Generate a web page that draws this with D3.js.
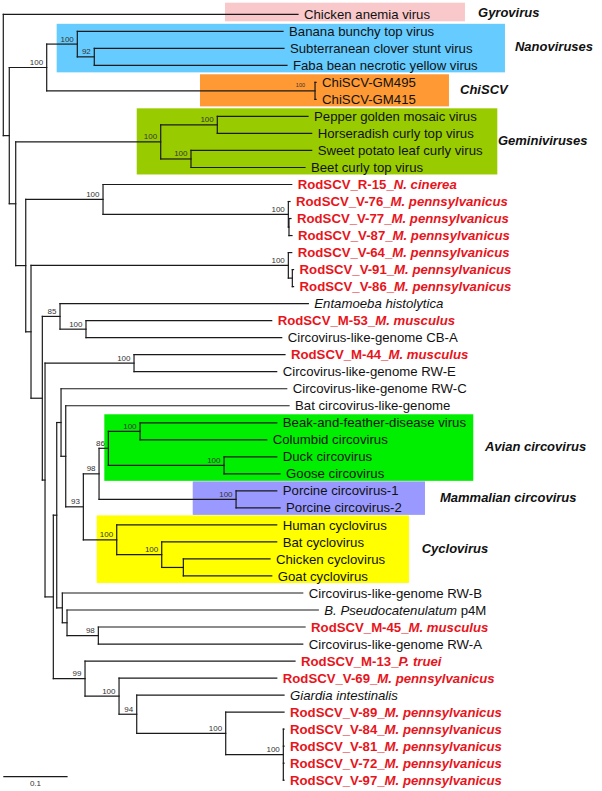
<!DOCTYPE html>
<html>
<head>
<meta charset="utf-8">
<script src="https://cdn.jsdelivr.net/npm/d3@7"></script>
<style>
  html, body { margin: 0; padding: 0; background: #fff; }
  svg { display: block; font-family: "Liberation Sans", Arial, sans-serif; }
</style>
</head>
<body>
<svg id="chart" width="602" height="791"></svg>
<script>
// ---------------- DATA ----------------
// Tree topology with branch lengths (substitutions/site) and bootstrap support as internal labels
const newick =
 "(CAV:0.4583," +
  "(" +
   "((Banana:0.3199,(Subterranean:0.2950,Faba:0.2997)92:0.0264)100:0.0476," +
    "(GM495:0.0016,GM415:0.0016)100:0.4173)100:0.0582," +
   "(" +
    "((Pepper:0.1411,Horseradish:0.1468)100:0.0880,(SweetPotato:0.1877,Beet:0.1773)100:0.0471)100:0.2255," +
    "(" +
     "(R15:0.2935,(V76:0.0026,(V77:0.0031,V87:0.0047):0.0010)100:0.2882)100:0.1202," +
     "(" +
      "(V64:0.0053,(V91:0.0019,V86:0.0019):0.0062)100:0.4002," +
      "(" +
       "(Entamoeba:0.3862,(M53:0.2888,CBA:0.3044)100:0.0404)85:0.0275," +
       "(" +
        "(M44:0.2348,RWE:0.2219)100:0.1384," +
        "(" +
         "(" +
          "(RWC:0.3510,(BatCirc:0.3473," +
            "(" +
             "(((Beak:0.2126,Columbid:0.1970)100:0.0493,(Duck:0.0820,Goose:0.0871)100:0.1799)86:0.0145," +
              "(PCV1:0.0633,PCV2:0.0684)100:0.2131)98:0.0244," +
             "(Human:0.2488,(BatCyc:0.1788,(ChickenCyc:0.1348,GoatCyc:0.1375):0.0336)100:0.0700)100:0.0519" +
            ")93:0.0274" +
          "):0.0073):0.0067," +
          "(RWB:0.3739,(BPseudo:0.3908,(M45:0.3215,RWA:0.3179)98:0.0487):0.0073):0.0087" +
         "):0.0053," +
         "(M13:0.3266,(V69:0.2453,(Giardia:0.2291,(V89:0.0907,(V84:0.0011,V81:0.0011,V72:0.0011,V97:0.0011)100:0.0896)100:0.1384)94:0.0275)100:0.0529)99:0.0493" +
        "):0.0129" +
       "):0.0042" +
      "):0.0176" +
     "):0.0082" +
    "):0.0156" +
   "):0.0100" +
  "):0.0093" +
 ");";

// Tip labels (*...* = italic)
const tipIds = ["CAV","Banana","Subterranean","Faba","GM495","GM415","Pepper","Horseradish","SweetPotato","Beet",
  "R15","V76","V77","V87","V64","V91","V86","Entamoeba","M53","CBA","M44","RWE","RWC","BatCirc",
  "Beak","Columbid","Duck","Goose","PCV1","PCV2","Human","BatCyc","ChickenCyc","GoatCyc",
  "RWB","BPseudo","M45","RWA","M13","V69","Giardia","V89","V84","V81","V72","V97"];
const tipLabels = ["Chicken anemia virus","Banana bunchy top virus","Subterranean clover stunt virus",
  "Faba bean necrotic yellow virus","ChiSCV-GM495","ChiSCV-GM415","Pepper golden mosaic virus",
  "Horseradish curly top virus","Sweet potato leaf curly virus","Beet curly top virus",
  "RodSCV_R-15_*N. cinerea*","RodSCV_V-76_*M. pennsylvanicus*","RodSCV_V-77_*M. pennsylvanicus*",
  "RodSCV_V-87_*M. pennsylvanicus*","RodSCV_V-64_*M. pennsylvanicus*","RodSCV_V-91_*M. pennsylvanicus*",
  "RodSCV_V-86_*M. pennsylvanicus*","*Entamoeba histolytica*","RodSCV_M-53_*M. musculus*",
  "Circovirus-like-genome CB-A","RodSCV_M-44_*M. musculus*","Circovirus-like-genome RW-E",
  "Circovirus-like-genome RW-C","Bat circovirus-like-genome","Beak-and-feather-disease virus",
  "Columbid circovirus","Duck circovirus","Goose circovirus","Porcine circovirus-1","Porcine circovirus-2",
  "Human cyclovirus","Bat cyclovirus","Chicken cyclovirus","Goat cyclovirus",
  "Circovirus-like-genome RW-B","*B. Pseudocatenulatum* p4M","RodSCV_M-45_*M. musculus*",
  "Circovirus-like-genome RW-A","RodSCV_M-13_*P. truei*","RodSCV_V-69_*M. pennsylvanicus*",
  "*Giardia intestinalis*","RodSCV_V-89_*M. pennsylvanicus*","RodSCV_V-84_*M. pennsylvanicus*",
  "RodSCV_V-81_*M. pennsylvanicus*","RodSCV_V-72_*M. pennsylvanicus*","RodSCV_V-97_*M. pennsylvanicus*"];

// Highlighted groups: name, first tip, last tip
const groupNames = ["Gyrovirus","Nanoviruses","ChiSCV","Geminiviruses","Avian circovirus","Mammalian circovirus","Cyclovirus"];
const groupFirst = ["CAV","Banana","GM495","Pepper","Beak","PCV1","Human"];
const groupLast  = ["CAV","Faba","GM415","Beet","Goose","PCV2","GoatCyc"];

const scaleBarValue = 0.1;

// ---------------- STYLE / LAYOUT ----------------
const groupStyle = {
  "Gyrovirus":            {fill:"#f9c8cb", x0:0.3448, x1:0.7180, lx:0.7383, top:11.6},
  "Nanoviruses":          {fill:"#66ccff", x0:0.0830, x1:0.7802, lx:0.7958, top:7.5},
  "ChiSCV":               {fill:"#ff9933", x0:0.3059, x1:0.6931, lx:0.7103, top:8.1},
  "Geminiviruses":        {fill:"#99cc00", x0:0.2075, x1:0.7683, lx:0.7693, top:8.1},
  "Avian circovirus":     {fill:"#00ee00", x0:0.1571, x1:0.7309, lx:0.7491, top:8.5},
  "Mammalian circovirus": {fill:"#9999ff", x0:0.2946, x1:0.6558, lx:0.6791, top:9.5},
  "Cyclovirus":           {fill:"#ffff00", x0:0.1453, x1:0.6309, lx:0.6507, top:9.5}
};
const RED = "#e8141b";
const LINE = "#1a1a1a";

// ---------------- PARSE ----------------
function parseNewick(s) {
  let i = 0;
  function node() {
    const n = {};
    if (s[i] === "(") {
      i++;
      n.children = [];
      n.children.push(node());
      while (s[i] === ",") { i++; n.children.push(node()); }
      i++; // ')'
    }
    let name = "";
    while (i < s.length && !",():;".includes(s[i])) name += s[i++];
    n.name = name;
    if (s[i] === ":") {
      i++;
      let l = "";
      while (i < s.length && !",();".includes(s[i])) l += s[i++];
      n.length = +l;
    }
    return n;
  }
  return node();
}

const root = d3.hierarchy(parseNewick(newick));
root.eachBefore(d => { d.dist = (d.parent ? d.parent.dist : 0) + (d.data.length || 0); });
const leaves = root.leaves();

const x = d3.scaleLinear().domain([0, 1]).range([3.3, 646.3]);
const y = d3.scaleLinear().domain([0, leaves.length - 1]).range([14.3, 780.2]);

leaves.forEach((d, i) => { d.y = y(i); });
root.eachAfter(d => {
  if (d.children) d.y = (d.children[0].y + d.children[d.children.length - 1].y) / 2;
  d.x = x(d.dist);
});
const leafById = new Map(leaves.map(d => [d.data.name, d]));

const svg = d3.select("#chart");

// ---------------- GROUP BOXES ----------------
const groups = groupNames.map((n, i) => ({name: n, a: leafById.get(groupFirst[i]), b: leafById.get(groupLast[i]), s: groupStyle[n]}));
svg.append("g").selectAll("rect").data(groups).join("rect")
  .attr("x", g => x(g.s.x0))
  .attr("width", g => x(g.s.x1) - x(g.s.x0))
  .attr("y", g => g.a.y - g.s.top)
  .attr("height", g => (g.b.y + 7) - (g.a.y - g.s.top))
  .attr("fill", g => g.s.fill);

// ---------------- BRANCHES ----------------
const gl = svg.append("g").attr("stroke", LINE).attr("stroke-width", 1.2).attr("fill", "none").attr("stroke-linecap", "square");
root.descendants().forEach(d => {
  if (d.parent) {
    gl.append("line").attr("x1", d.parent.x).attr("x2", d.x).attr("y1", d.y).attr("y2", d.y);
  }
  if (d.children) {
    gl.append("line").attr("x1", d.x).attr("x2", d.x)
      .attr("y1", d.children[0].y).attr("y2", d.children[d.children.length - 1].y);
  }
});

// ---------------- SUPPORT VALUES ----------------
const isTinyPair = d => d.height === 1 && d.children.length === 2 && d.leaves().every(l => l.data.length < 0.002);
const supportNodes = root.descendants().filter(d => d.children && d.data.name);
svg.append("g").selectAll("text").data(supportNodes).join("text")
  .attr("x", d => d.x - (isTinyPair(d) ? 10 : 3.5))
  .attr("y", d => d.y - 2.5 - (isTinyPair(d) ? 1.5 : 0))
  .attr("text-anchor", "end")
  .attr("font-size", d => isTinyPair(d) ? 5.5 : 8)
  .attr("fill", "#333")
  .text(d => d.data.name);

// ---------------- TIP LABELS ----------------
const labelOf = new Map(tipIds.map((id, i) => [id, tipLabels[i]]));
const gt = svg.append("g").attr("font-size", 13.2);
leaves.forEach(d => {
  const lab = labelOf.get(d.data.name);
  const red = lab.startsWith("RodSCV");
  const t = gt.append("text").attr("x", d.x + 6).attr("y", d.y + 4.6)
    .attr("fill", red ? RED : "#111").attr("font-weight", red ? "bold" : "normal");
  lab.split("*").forEach((seg, k) => {
    if (!seg) return;
    t.append("tspan").attr("font-style", k % 2 ? "italic" : "normal").text(seg);
  });
});

// ---------------- GROUP LABELS ----------------
svg.append("g").selectAll("text").data(groups).join("text")
  .attr("x", g => x(g.s.lx))
  .attr("y", g => (g.a.y + g.b.y) / 2 + 3)
  .attr("font-size", 13).attr("font-weight", "bold").attr("font-style", "italic").attr("fill", "#111")
  .text(g => g.name);

// ---------------- SCALE BAR ----------------
const sb = svg.append("g");
sb.append("line").attr("x1", x(0)).attr("x2", x(scaleBarValue)).attr("y1", 776.7).attr("y2", 776.7)
  .attr("stroke", LINE).attr("stroke-width", 1.2);
sb.append("text").attr("x", (x(0) + x(scaleBarValue)) / 2).attr("y", 785.5).attr("text-anchor", "middle")
  .attr("font-size", 8).attr("fill", "#333").text(String(scaleBarValue));
</script>
</body>
</html>
